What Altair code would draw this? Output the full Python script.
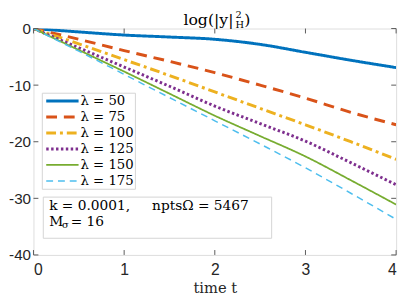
import altair as alt
import pandas as pd

# ---- data ----
t_vals = [0, 0.5, 1, 1.5, 2, 2.5, 3, 3.5, 4]
series_names = ["λ = 50", "λ = 75", "λ = 100", "λ = 125", "λ = 150", "λ = 175"]
y_lam50 = [0, -0.6, -1.15, -1.5, -1.9, -2.8, -4.2, -5.6, -6.9]
y_lam75 = [0, -1.9, -3.9, -5.8, -7.8, -10.0, -12.3, -14.8, -17.0]
y_lam100 = [0, -2.7, -5.5, -8.3, -11.2, -14.1, -17.0, -20.0, -23.1]
y_lam125 = [0, -3.4, -6.8, -10.2, -13.7, -16.8, -19.9, -23.7, -27.6]
y_lam150 = [0, -3.8, -7.6, -11.5, -15.4, -19.0, -22.6, -26.8, -31.1]
y_lam175 = [0, -4.0, -8.1, -12.2, -16.3, -20.4, -24.6, -29.1, -33.7]
all_y = [y_lam50, y_lam75, y_lam100, y_lam125, y_lam150, y_lam175]

x_ticks = [0, 1, 2, 3, 4]
y_ticks = [0, -10, -20, -30, -40]

# ---- styles ----
colors = ["#0072BD", "#D95319", "#EDB120", "#7E2F8E", "#77AC30", "#4DBEEE"]
dashes = [[1, 0], [11, 7], [10, 4, 3, 4], [2.5, 2.5], [1, 0], [7, 5]]
widths = [3, 3, 3, 3, 1.8, 1.5]

W, H = 370, 231
FRAME = "#595959"
SERIF = "DejaVu Serif"
SANS = "Liberation Sans"
HYPHEN = "replace(datum.label, '\u2212', '-')"

xs = alt.Scale(domain=[0, 4], nice=False, zero=False)
ys = alt.Scale(domain=[-40, 0], nice=False, zero=False)

layers = []

# lines
for name, yv, c, d, w in zip(series_names, all_y, colors, dashes, widths):
    df = pd.DataFrame({"t": t_vals, "y": yv, "series": name})
    layers.append(
        alt.Chart(df).mark_line(color=c, strokeDash=d, strokeWidth=w, interpolate="monotone", clip=True)
        .encode(
            x=alt.X("t:Q", scale=xs, axis=alt.Axis(values=x_ticks, format="d", tickSize=0, domain=False,
                                                  grid=False, labelFont=SANS, labelFontSize=16,
                                                  labelColor="#262626", labelPadding=7, title="time t",
                                                  titleFont=SERIF, titleFontSize=15,
                                                  titleFontWeight="normal", titleColor="#262626",
                                                  titlePadding=3)),
            y=alt.Y("y:Q", scale=ys, axis=alt.Axis(values=y_ticks, format="d", labelExpr=HYPHEN,
                                                  tickSize=0, domain=False, grid=False,
                                                  labelFont=SANS, labelFontSize=15.5, labelColor="#262626",
                                                  labelPadding=3, title=None)),
        )
    )

# inward ticks
xt = pd.DataFrame({"t": x_ticks})
yt = pd.DataFrame({"y": y_ticks})
for (a, b) in [(H, H - 5), (0, 5)]:
    layers.append(alt.Chart(xt).mark_rule(color=FRAME, strokeWidth=1)
                  .encode(x=alt.X("t:Q", scale=xs), y=alt.value(a), y2=alt.value(b)))
for (a, b) in [(0, 5), (W, W - 5)]:
    layers.append(alt.Chart(yt).mark_rule(color=FRAME, strokeWidth=1)
                  .encode(y=alt.Y("y:Q", scale=ys), x=alt.value(a), x2=alt.value(b)))

# legend box
layers.append(alt.Chart(pd.DataFrame({"a": [0]})).mark_rect(fill="white", stroke="#d4d4d4", strokeWidth=1)
              .encode(x=alt.value(9), x2=alt.value(104), y=alt.value(66), y2=alt.value(164)))
for i, (name, c, d, w) in enumerate(zip(series_names, colors, dashes, widths)):
    ly = 74 + 16.3 * i
    ldf = pd.DataFrame({"series": [name], "ly": [ly]})
    layers.append(alt.Chart(ldf).mark_rule(color=c, strokeDash=d, strokeWidth=w)
                  .encode(y=alt.Y("ly:Q", scale=None), x=alt.value(13), x2=alt.value(46)))
    layers.append(alt.Chart(ldf).mark_text(align="left", baseline="middle", font=SERIF, fontSize=13.5,
                                           color="#000000")
                  .encode(y=alt.Y("ly:Q", scale=None), x=alt.value(48), text="series:N"))

# annotation box
layers.append(alt.Chart(pd.DataFrame({"a": [0]})).mark_rect(fill="white", stroke="#d4d4d4", strokeWidth=1)
              .encode(x=alt.value(10), x2=alt.value(243), y=alt.value(172), y2=alt.value(214)))
ann = [
    ("k = 0.0001,", 16, 181, 14),
    ("nptsΩ = 5467", 121, 181, 14),
    ("M", 16, 197, 14),
    ("σ", 29, 201, 10),
    ("= 16", 38, 197, 14),
]
for txt, x, y, fs in ann:
    layers.append(alt.Chart(pd.DataFrame({"txt": [txt]})).mark_text(align="left", baseline="middle",
                                                                     font=SERIF, fontSize=fs, color="#000000")
                  .encode(x=alt.value(x), y=alt.value(y), text="txt:N"))

# title log(|y|^2_H)
title_parts = [
    ("log(|y|", 204, -9, 16, "right"),
    ("2", 206, -14, 10, "left"),
    ("H", 206, -4, 10, "left"),
    (")", 215, -9, 16, "left"),
]
for txt, x, y, fs, al in title_parts:
    layers.append(alt.Chart(pd.DataFrame({"txt": [txt]})).mark_text(align=al, baseline="middle",
                                                                     font=SERIF, fontSize=fs, color="#000000")
                  .encode(x=alt.value(x), y=alt.value(y), text="txt:N"))

chart = (
    alt.layer(*layers)
    .properties(width=W, height=H, autosize=alt.AutoSizeParams(type="none"),
                padding={"left": 26, "top": 18, "right": 6, "bottom": 42})
    .configure_view(stroke=FRAME, strokeWidth=1)
    .configure(background="white")
)

chart.save("out.html", embed_options={"renderer": "svg", "actions": False})
